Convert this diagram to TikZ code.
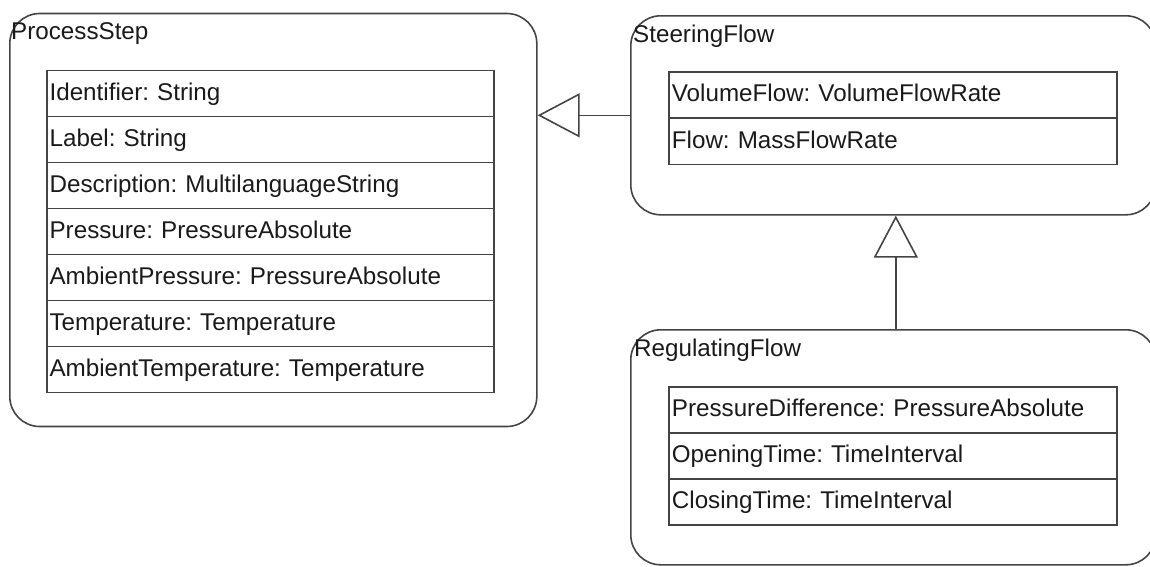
\documentclass[tikz,border=0pt]{standalone}
\usepackage{fontspec}
\setmainfont{Liberation Sans}
\usetikzlibrary{arrows.meta}
\definecolor{linegray}{HTML}{444444}
\definecolor{inkblack}{HTML}{1A1A1A}
\tikzset{
  classbox/.style={draw=linegray, line width=1.6pt, rounded corners=30pt,
    anchor=north west, inner sep=0pt},
  classtitle/.style={anchor=base west, inner sep=0pt, text=inkblack},
  attrrow/.style={draw=linegray, line width=1.8pt, anchor=north west,
    minimum height=46pt, inner ysep=0pt, inner xsep=3pt,
    text height=18pt, text depth=4pt, text=inkblack, align=left},
  generalization/.style={draw=linegray, line width=1.6pt,
    -{Triangle[open, length=42pt, width=44pt, line width=1.6pt]}},
}
\frenchspacing
\begin{document}
\begin{tikzpicture}[x=1pt, y=-1pt, font=\fontsize{24.2}{29}\selectfont]
\clip (0,0) rectangle (1150,566);

% ---- ProcessStep ----
\node[classbox, minimum width=527pt, minimum height=413pt] (proc) at (9,12.7) {};
\node[classtitle] (procT) at (11,39) {ProcessStep};
\foreach \i/\t in {0/{Identifier: String},
                   1/{Label: String},
                   2/{Description: MultilanguageString},
                   3/{Pressure: PressureAbsolute},
                   4/{AmbientPressure: PressureAbsolute},
                   5/{Temperature: Temperature},
                   6/{AmbientTemperature: Temperature}}
  \node[attrrow, text width=441.3pt, minimum width=447.3pt] (procA\i) at (45.7,69.5+46*\i) {\t};

% ---- SteeringFlow ----
\node[classbox, minimum width=525pt, minimum height=199pt] (steer) at (630,15) {};
\node[classtitle] (steerT) at (633,42) {SteeringFlow};
\foreach \i/\t in {0/{VolumeFlow: VolumeFlowRate},
                   1/{Flow: MassFlowRate}}
  \node[attrrow, text width=442pt, minimum width=448pt] (steerA\i) at (668,71+46.5*\i) {\t};

% ---- RegulatingFlow ----
\node[classbox, minimum width=525pt, minimum height=235pt] (reg) at (630,329) {};
\node[classtitle] (regT) at (634,356.5) {RegulatingFlow};
\foreach \i/\t in {0/{PressureDifference: PressureAbsolute},
                   1/{OpeningTime: TimeInterval},
                   2/{ClosingTime: TimeInterval}}
  \node[attrrow, text width=442pt, minimum width=448pt] (regA\i) at (668,386+46*\i) {\t};

% ---- generalizations ----
\draw[generalization] (steer.west) -- (steer.west -| proc.east);
\draw[generalization] ([xshift=2.5pt]reg.north) -- ([xshift=2.5pt]reg.north |- steer.south);
\end{tikzpicture}
\end{document}
